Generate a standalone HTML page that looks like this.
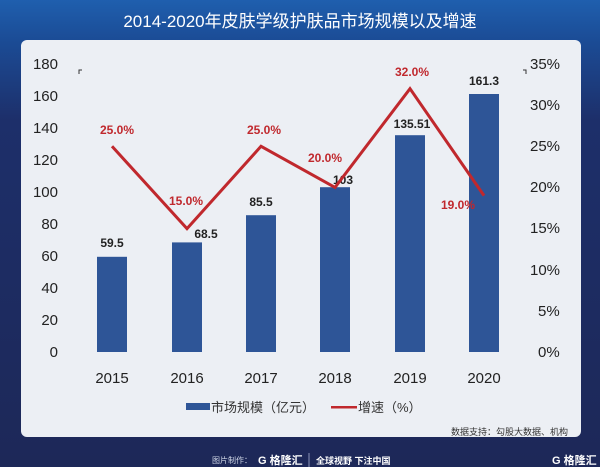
<!DOCTYPE html><html><head><meta charset="utf-8"><style>
body{margin:0;width:600px;height:467px;overflow:hidden;font-family:"Liberation Sans","Noto Sans CJK SC",sans-serif;}
.bg{position:absolute;left:0;top:0;width:600px;height:467px;background:linear-gradient(180deg,#1f5fae 0px,#1b4c96 40px,#1d2f6a 120px,#1d2858 467px);}
.panel{position:absolute;left:21px;top:40px;width:560px;height:397px;background:#eceff4;border-radius:6px;}
</style></head><body><div class="bg"></div><div class="panel"></div>
<svg width="600" height="467" style="position:absolute;left:0;top:0" font-family="Liberation Sans,Noto Sans CJK SC,sans-serif">
<text x="300" y="27" fill="#fff" font-size="17" text-anchor="middle">2014-2020年皮肤学级护肤品市场规模以及增速</text>
<g font-size="15" fill="#222" text-anchor="end">
<text x="58" y="69">180</text><text x="58" y="101">160</text><text x="58" y="133">140</text><text x="58" y="165">120</text><text x="58" y="197">100</text><text x="58" y="229">80</text><text x="58" y="261">60</text><text x="58" y="293">40</text><text x="58" y="325">20</text><text x="58" y="357">0</text>
</g>
<g font-size="15" fill="#222" text-anchor="start">
<text x="530" y="69">35%</text><text x="530" y="110">30%</text><text x="530" y="151">25%</text><text x="530" y="192">20%</text><text x="530" y="233">15%</text><text x="530" y="275">10%</text><text x="538" y="316">5%</text><text x="538" y="357">0%</text>
</g>
<path d="M79 74V70h3M523 70h3v4" stroke="#333" fill="none"/>
<g fill="#2e5597">
<rect x="97" y="256.8" width="30" height="95.2"/><rect x="172" y="242.4" width="30" height="109.6"/><rect x="246" y="215.2" width="30" height="136.8"/><rect x="320" y="187.2" width="30" height="164.8"/><rect x="395" y="135.2" width="30" height="216.8"/><rect x="469" y="94" width="30" height="258"/>
</g>
<g font-size="12" font-weight="bold" fill="#222" text-anchor="middle">
<text x="112" y="247">59.5</text><text x="206" y="238">68.5</text><text x="261" y="206">85.5</text><text x="343" y="184">103</text><text x="412" y="128">135.51</text><text x="484" y="85">161.3</text>
</g>
<polyline points="112,146.3 187,228.6 261,146.3 335,187.4 410,88.7 484,195.6" fill="none" stroke="#c0282d" stroke-width="3"/>
<g font-size="12" font-weight="bold" fill="#c0282d" text-anchor="middle">
<text x="117" y="134">25.0%</text><text x="186" y="205">15.0%</text><text x="264" y="134">25.0%</text><text x="325" y="162">20.0%</text><text x="412" y="76">32.0%</text><text x="458" y="209">19.0%</text>
</g>
<g font-size="15" fill="#222" text-anchor="middle">
<text x="112" y="383">2015</text><text x="187" y="383">2016</text><text x="261" y="383">2017</text><text x="335" y="383">2018</text><text x="410" y="383">2019</text><text x="484" y="383">2020</text>
</g>
<rect x="186" y="403" width="24" height="7" fill="#2e5597"/>
<text x="211" y="412" font-size="13" fill="#333">市场规模（亿元）</text>
<rect x="331" y="406" width="26" height="2.5" fill="#c0282d"/>
<text x="358" y="412" font-size="13" fill="#333">增速（%）</text>
<text x="568" y="435" font-size="9" fill="#333" text-anchor="end">数据支持：勾股大数据、机构</text>
<text x="212" y="463" font-size="8" fill="#cfd6e6">图片制作：</text>
<text x="258" y="464" font-size="11" font-weight="bold" fill="#fff">G 格隆汇</text>
<line x1="309" y1="453" x2="309" y2="467" stroke="#8a94b8"/>
<text x="316" y="464" font-size="9" font-weight="bold" fill="#fff">全球视野 下注中国</text>
<text x="552" y="464" font-size="11" font-weight="bold" fill="#fff">G 格隆汇</text>
</svg></body></html>
